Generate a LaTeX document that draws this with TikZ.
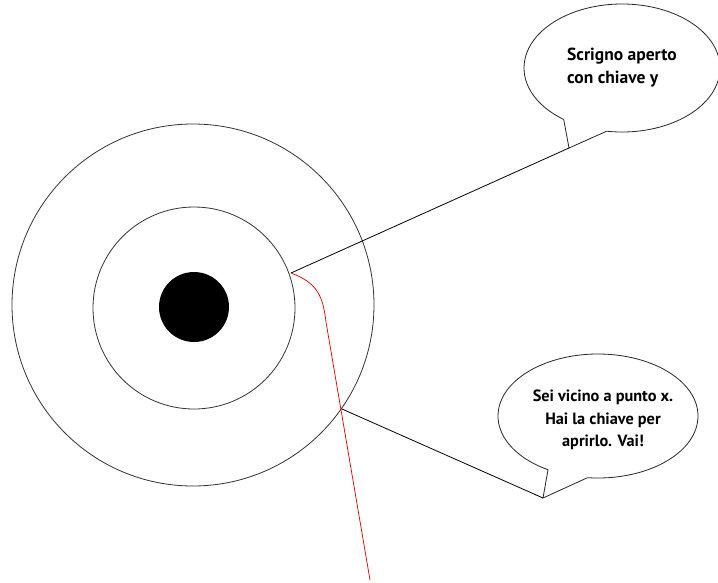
\documentclass[tikz,border=0pt]{standalone}
\usepackage{fontspec}
\setmainfont{PT Sans}
\usetikzlibrary{calc}
\begin{document}
\begin{tikzpicture}[x=1pt,y=-1pt,
  ring/.style={draw=black!80,line width=0.8pt},
  link/.style={draw=black,line width=0.8pt},
  bubble/.style={draw=black!85,line width=0.8pt,fill=white},
  txt/.style={font=\bfseries,inner sep=0pt},
  route/.style={draw=red!85!black,line width=0.7pt}]
\useasboundingbox (0,0) rectangle (718,582);
% target
\node[ring,circle,minimum size=362pt,inner sep=0pt] (outer) at (193,305) {};
\node[ring,circle,minimum size=202pt,inner sep=0pt] (inner) at (194,308) {};
\node[circle,fill=black,minimum size=70pt,inner sep=0pt] (dot) at (194,307) {};
% anchor points
\coordinate (p1) at (291,273);
\coordinate (p2) at (342,409);
\coordinate (end) at (370,580);
% bubble 1
\coordinate (b1c) at (622,68);
\coordinate (t1) at (569,148);
\draw[bubble] ($(b1c)+(126.5:98 and 64)$) -- (t1) -- ($(b1c)+(99:98 and 64)$) arc[start angle=99,end angle=-233.5,x radius=98,y radius=64] -- cycle;
\node[txt,align=left,font=\bfseries\fontsize{17.5}{23}\selectfont,anchor=west] (s1) at (567,68) {Scrigno aperto\\con chiave y};
% bubble 2
\coordinate (b2c) at (598,416);
\coordinate (t2) at (543,498);
\draw[bubble] ($(b2c)+(120:100 and 62)$) -- (t2) -- ($(b2c)+(96:100 and 62)$) arc[start angle=96,end angle=-240,x radius=100,y radius=62] -- cycle;
\node[txt,align=center,font=\bfseries\fontsize{16.3}{22.5}\selectfont] (s2) at (603,420) {Sei vicino a punto x.\\Hai la chiave per\\aprirlo. Vai!};
% connectors
\draw[link] (p1) -- (t1);
\draw[link] (p2) -- (t2);
\draw[route] (p1) .. controls (318,283) and (323,297) .. (326,322) -- (end);
\end{tikzpicture}
\end{document}
